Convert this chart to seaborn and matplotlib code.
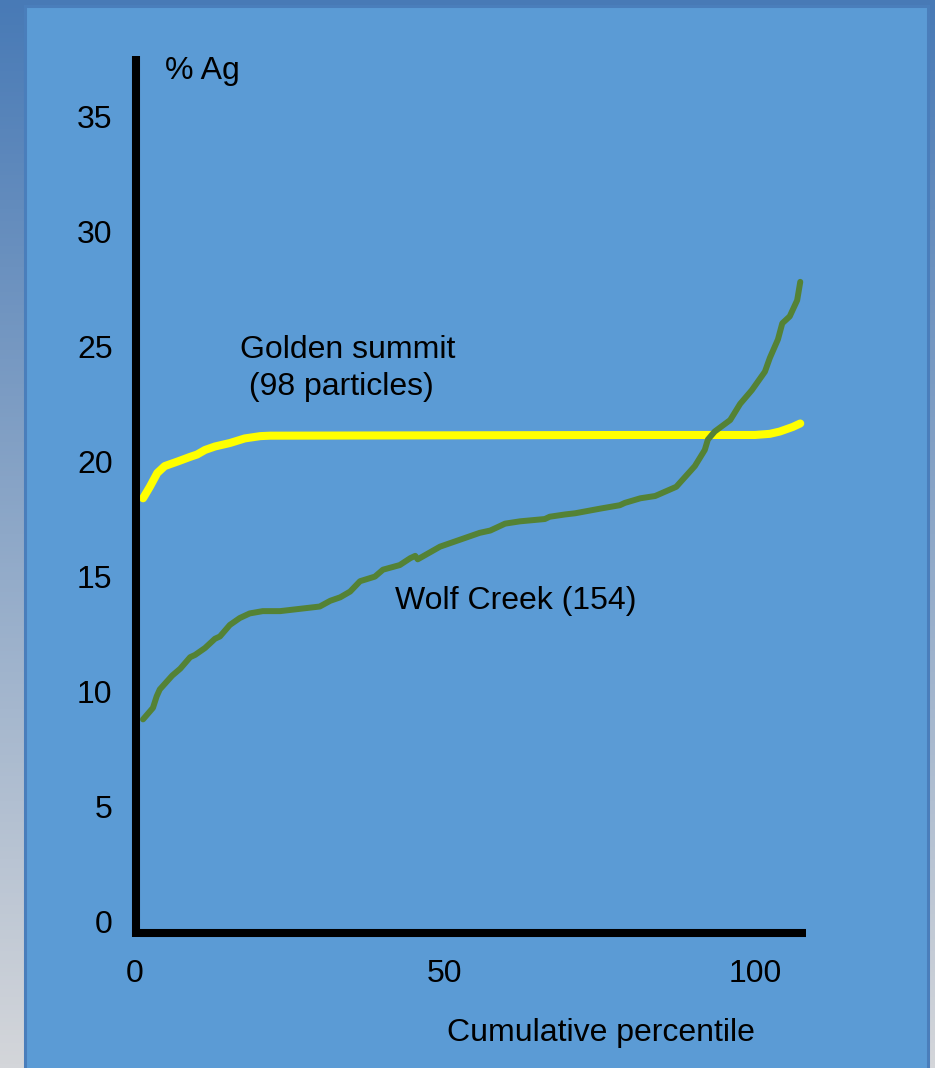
import numpy as np
import pandas as pd
import matplotlib
matplotlib.use("Agg")
import matplotlib.pyplot as plt
from matplotlib.patches import Rectangle
import seaborn as sns

# values (cumulative percentile vs % Ag)
golden_pct = [1.3, 2.4, 3.6, 4.8, 6.9, 8.9, 10.0, 11.3, 12.9, 15.3, 17.7, 20.2, 21.8,
              40.0, 60.0, 80.0, 100.0, 102.4, 104.0, 106.1, 107.3]
golden_ag = [18.4, 18.9, 19.5, 19.8, 20.0, 20.2, 20.3, 20.5, 20.65, 20.8, 21.0, 21.1, 21.12,
             21.13, 21.14, 21.15, 21.15, 21.2, 21.3, 21.5, 21.65]

wolf_pct = [1.3, 2.9, 3.5, 4.0, 6.0, 7.3, 8.9, 9.7, 11.3, 12.9, 13.7, 15.3, 16.9, 18.5,
            20.6, 23.4, 26.6, 29.8, 31.5, 33.1, 34.7, 36.3, 38.7, 40.0, 42.7, 44.4, 45.2,
            45.6, 49.2, 52.4, 55.6, 57.3, 59.7, 62.1, 66.1, 66.9, 69.4, 71.0, 75.0, 78.2,
            79.0, 81.5, 83.9, 87.3, 90.3, 91.9, 92.4, 93.5, 96.0, 97.6, 99.5, 101.6, 102.4,
            103.7, 104.4, 105.6, 106.8, 107.3]
wolf_ag = [8.8, 9.3, 9.8, 10.1, 10.7, 11.0, 11.5, 11.6, 11.9, 12.3, 12.4, 12.9, 13.2, 13.4,
           13.5, 13.5, 13.6, 13.7, 13.95, 14.1, 14.35, 14.8, 15.0, 15.3, 15.5, 15.8, 15.9,
           15.75, 16.3, 16.6, 16.9, 17.0, 17.3, 17.4, 17.5, 17.6, 17.7, 17.75, 17.95, 18.1,
           18.2, 18.4, 18.5, 18.9, 19.8, 20.5, 20.95, 21.3, 21.8, 22.5, 23.1, 23.9, 24.5,
           25.3, 26.0, 26.3, 27.0, 27.8]

x_ticks = [0, 50, 100]
y_ticks = [0, 5, 10, 15, 20, 25, 30, 35]

df = pd.concat([
    pd.DataFrame({"pct": golden_pct, "ag": golden_ag, "site": "Golden summit"}),
    pd.DataFrame({"pct": wolf_pct, "ag": wolf_ag, "site": "Wolf Creek"}),
])

sns.set_style("ticks")
plt.rcParams["font.family"] = ["Liberation Sans", "DejaVu Sans"]
plt.rcParams["text.color"] = "black"

fig = plt.figure(figsize=(9.35, 10.68), dpi=100)

# slide background: vertical gradient plus the blue panel
bg = fig.add_axes([0, 0, 1, 1], zorder=-10)
top = np.array([72, 122, 182]) / 255
bot = np.array([212, 214, 218]) / 255
t = np.linspace(0, 1, 256)[:, None]
grad = (top[None, :] * (1 - t) + bot[None, :] * t)[:, None, :]
bg.imshow(grad, aspect="auto", extent=[0, 1, 0, 1])
bg.add_patch(Rectangle((25 / 935, -0.01), 903 / 935, 1 - 6 / 1068 + 0.01,
                       facecolor="#5B9BD5", edgecolor="#4A7EBB", linewidth=2.2))
bg.set_xlim(0, 1)
bg.set_ylim(0, 1)
bg.axis("off")

ax = fig.add_axes([0.1311, 0.0936, 0.7427, 0.8624])
ax.set_facecolor("none")

sns.lineplot(data=df[df.site == "Golden summit"], x="pct", y="ag", color="#FFFF00",
             linewidth=5.8, sort=False, estimator=None, ax=ax, legend=False,
             solid_joinstyle="round")
sns.lineplot(data=df[df.site == "Wolf Creek"], x="pct", y="ag", color="#548235",
             linewidth=4.3, sort=False, estimator=None, ax=ax, legend=False,
             solid_joinstyle="round")

ax.set_xlim(-2, 110)
ax.set_ylim(-2, 38)

for s in ["top", "right"]:
    ax.spines[s].set_visible(False)
ax.spines["left"].set_position(("data", 0.2))
ax.spines["left"].set_bounds(-0.65, 37.6)
ax.spines["bottom"].set_position(("data", -0.48))
ax.spines["bottom"].set_bounds(0.8, 108.2)
for s in ["left", "bottom"]:
    ax.spines[s].set_linewidth(5.8)
    ax.spines[s].set_color("black")
    ax.spines[s].set_capstyle("butt")

ax.set_xticks(x_ticks)
ax.set_yticks(y_ticks)
ax.tick_params(axis="both", length=0, labelsize=23, colors="black")
ax.tick_params(axis="y", pad=17)
ax.tick_params(axis="x", pad=19)
ax.set_xlabel("")
ax.set_ylabel("")

ax.text(4.8, 36.97, "% Ag", fontsize=23, va="center", ha="left")
ax.text(17.0, 24.04, "Golden summit\n (98 particles)", fontsize=23, va="center",
        ha="left", linespacing=1.34)
ax.text(41.9, 13.93, "Wolf Creek (154)", fontsize=23, va="center", ha="left")
ax.text(50.3, -4.82, "Cumulative percentile", fontsize=23, va="center", ha="left",
        clip_on=False)

fig.savefig("out.png", dpi=100)
plt.close(fig)
